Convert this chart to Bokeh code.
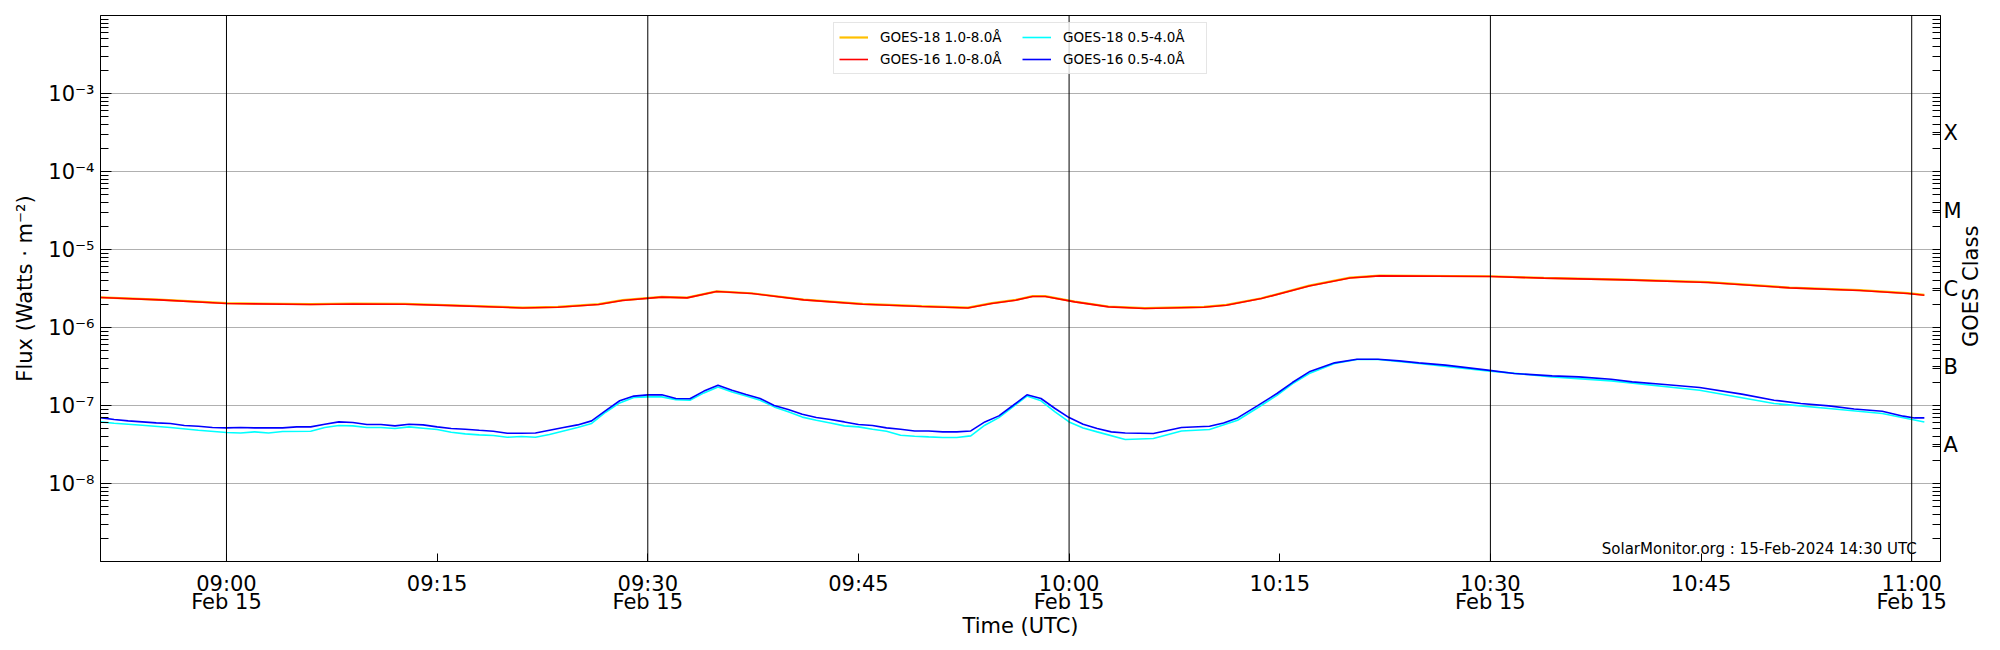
import math
from datetime import datetime, timezone
from bokeh.plotting import figure
from bokeh.models import (Range1d, FixedTicker, LogAxis, LinearAxis, Span, Label, Legend,
                          LegendItem, CustomJSTickFormatter)
from bokeh.embed import file_html
from bokeh.resources import INLINE

# ---------------- data (minutes relative to 2024-02-15 09:00 UTC) ----------------
t_g16_long = [-9, -4.8, 0, 6, 9, 12.7, 16.1, 21.1, 23.6, 26.5, 28.2, 31, 32.8, 34.9, 37.4,
              41.1, 45.3, 49.5, 52.8, 54.5, 56.2, 57.4, 58.3, 60.4, 62.8, 65.4, 69.6, 71.2,
              73.7, 77.1, 80.0, 82.1, 90, 93.8, 99.6, 105.5, 111.3, 116.3, 119.7, 120.9]
f_g16_long = [2.42, 2.26, 2.03, 1.97, 2.00, 1.99, 1.91, 1.78, 1.82, 1.97, 2.22, 2.45, 2.40,
              2.89, 2.73, 2.26, 1.99, 1.86, 1.78, 2.03, 2.24, 2.50, 2.50, 2.13, 1.84, 1.75,
              1.82, 1.93, 2.35, 3.41, 4.32, 4.59, 4.51, 4.29, 4.08, 3.78, 3.22, 2.98, 2.73, 2.59]  # 1e-6

t_g18_long = [-9, -4.8, 0, 6, 9, 12.7, 16.1, 21.1, 23.6, 26.5, 28.2, 31, 32.8, 34.9, 37.4,
              41.1, 45.3, 49.5, 52.8, 54.5, 56.2, 57.4, 58.3, 60.4, 62.8, 65.4, 69.6, 71.2,
              73.7, 77.1, 80.0, 82.1, 90, 93.8, 99.6, 105.5, 111.3, 116.3, 119.7, 120.9]
f_g18_long = [2.44, 2.28, 2.05, 1.99, 2.02, 2.01, 1.93, 1.80, 1.84, 1.99, 2.24, 2.47, 2.42,
              2.91, 2.75, 2.28, 2.01, 1.88, 1.80, 2.05, 2.26, 2.52, 2.52, 2.15, 1.86, 1.77,
              1.84, 1.95, 2.37, 3.44, 4.35, 4.62, 4.54, 4.32, 4.11, 3.81, 3.25, 3.01, 2.76, 2.62]  # 1e-6

t_g16_short = [-9, -8, -7, -6, -5, -4, -3, -2, -1, 0, 1, 2, 3, 4, 5, 6, 7, 8, 9, 10, 11, 12,
               13, 14, 15, 16, 17, 18, 19, 20, 21, 22, 23, 24, 25, 26, 27, 28, 29, 30, 31, 32,
               33, 34, 35, 36, 37, 38, 39, 40, 41, 42, 43, 44, 45, 46, 47, 48, 49, 50, 51, 52,
               53, 54, 55, 56, 57, 58, 59, 60, 61, 62, 63, 64, 66, 68, 70, 71, 72, 73.4, 74.8,
               75.9, 77.1, 78.9, 80.5, 82, 83.5, 84.9, 86.8, 89.8, 91.7, 94.4, 96.3, 98.6,
               100.1, 102.2, 104.9, 107.9, 110.2, 112.1, 114.1, 115.9, 117.9, 119.4, 120.2, 120.9]
f_g16_short = [7.0, 6.6, 6.35, 6.16, 5.98, 5.88, 5.54, 5.43, 5.22, 5.16, 5.22, 5.16, 5.16, 5.16,
               5.32, 5.32, 5.76, 6.16, 6.05, 5.70, 5.70, 5.48, 5.76, 5.64, 5.32, 5.07, 4.97,
               4.82, 4.68, 4.41, 4.41, 4.45, 4.82, 5.22, 5.64, 6.35, 8.6, 11.5, 13.2, 13.7,
               13.7, 12.3, 12.2, 15.3, 18.2, 15.7, 13.8, 12.3, 10.0, 8.9, 7.74, 7.0, 6.6, 6.16,
               5.70, 5.54, 5.16, 4.97, 4.72, 4.72, 4.59, 4.59, 4.72, 6.16, 7.36, 10.0, 13.7,
               12.3, 9.15, 7.0, 5.76, 5.07, 4.59, 4.45, 4.38, 5.22, 5.43, 5.98, 6.93, 9.9,
               14.25, 19.7, 27.0, 35.2, 39.2, 39.2, 37.3, 35.2, 32.9, 28.4, 25.7, 24.0, 23.3,
               21.7, 20.1, 18.75, 17.0, 14.0, 11.7, 10.6, 9.9, 9.0, 8.45, 7.3, 6.93, 6.93]  # 1e-8

t_g18_short = [-9, -8, -6, -4, -2, 0, 1, 2, 3, 4, 6, 7, 8, 9, 10, 11, 12, 13, 14, 15, 16, 17,
               18, 19, 20, 21, 22, 23, 24, 25, 26, 27, 28, 29, 30, 31, 32, 33, 34, 35, 36, 37,
               38, 39, 40, 41, 42, 43, 44, 45, 46, 47, 48, 49, 50, 51, 52, 53, 54, 55, 56, 57,
               58, 59, 60, 61, 62, 64, 66, 68, 70, 72, 73.4, 74.8, 75.9, 77.1, 78.9, 80.5, 82,
               84.9, 89.8, 94.4, 98.6, 104.9, 110.2, 114.1, 117.9, 120.9]
f_g18_short = [6.16, 5.93, 5.59, 5.22, 4.82, 4.51, 4.45, 4.59, 4.45, 4.64, 4.68, 5.22, 5.54,
               5.48, 5.22, 5.22, 5.07, 5.32, 5.12, 4.92, 4.55, 4.33, 4.20, 4.12, 3.92, 4.00,
               3.92, 4.25, 4.72, 5.22, 5.88, 8.2, 10.8, 12.7, 12.9, 12.9, 11.9, 11.7, 14.5,
               17.3, 14.9, 13.2, 11.7, 9.6, 8.3, 7.1, 6.48, 5.98, 5.48, 5.32, 4.97, 4.68, 4.16,
               4.04, 3.96, 3.89, 3.89, 4.08, 5.59, 7.0, 9.6, 13.2, 11.5, 8.3, 6.16, 5.16, 4.59,
               3.67, 3.78, 4.72, 4.92, 6.48, 9.3, 13.5, 19.0, 25.7, 34.5, 38.9, 38.9, 34.5,
               27.8, 23.3, 20.7, 15.7, 10.6, 9.15, 7.9, 6.16]  # 1e-8

x_tick_min = [0, 15, 30, 45, 60, 75, 90, 105, 120]
x_tick_labels = ["09:00", "09:15", "09:30", "09:45", "10:00", "10:15", "10:30", "10:45", "11:00"]
date_tick_min = [0, 30, 60, 90, 120]
date_tick_labels = ["Feb 15", "Feb 15", "Feb 15", "Feb 15", "Feb 15"]
vline_min = [0, 30, 60, 90, 120]
y_tick_vals = [1e-8, 1e-7, 1e-6, 1e-5, 1e-4, 1e-3]
y_tick_labels = ["10⁻⁸", "10⁻⁷", "10⁻⁶", "10⁻⁵", "10⁻⁴", "10⁻³"]
class_vals = [10 ** -7.5, 10 ** -6.5, 10 ** -5.5, 10 ** -4.5, 10 ** -3.5]
class_labels = ["A", "B", "C", "M", "X"]
series_labels = ["GOES-18 1.0-8.0Å", "GOES-16 1.0-8.0Å", "GOES-18 0.5-4.0Å", "GOES-16 0.5-4.0Å"]
note = "SolarMonitor.org : 15-Feb-2024 14:30 UTC"
right_title = "GOES Class"

BASE = datetime(2024, 2, 15, 9, 0, tzinfo=timezone.utc).timestamp() * 1000.0
MS = 60000.0


def tx(mins):
    return [BASE + m * MS for m in mins]


FONT = "DejaVu Sans"

p = figure(width=1998, height=648, y_axis_type="log",
           x_range=Range1d(BASE - 8.97 * MS, BASE + 122.05 * MS),
           y_range=Range1d(1e-9, 1e-2),
           output_backend="svg", toolbar_location=None,
           min_border_left=100, min_border_right=58, min_border_top=15, min_border_bottom=87)
p.background_fill_color = "white"
p.border_fill_color = "white"
p.outline_line_color = "black"
p.outline_line_width = 1

minor_y = [k * 10.0 ** e for e in range(-9, -2) for k in range(2, 10)]

PICK_LOG = """
let best = 0, d = Infinity;
for (let i = 0; i < vals.length; i++) { const dd = Math.abs(Math.log10(vals[i]) - Math.log10(tick)); if (dd < d) { d = dd; best = i; } }
return labs[best];
"""
PICK_LIN = """
let best = 0, d = Infinity;
for (let i = 0; i < vals.length; i++) { const dd = Math.abs(vals[i] - tick); if (dd < d) { d = dd; best = i; } }
return labs[best];
"""

# x axis (times)
xa = p.xaxis[0]
xa.ticker = FixedTicker(ticks=tx(x_tick_min), minor_ticks=[])
xa.formatter = CustomJSTickFormatter(args=dict(vals=tx(x_tick_min), labs=x_tick_labels), code=PICK_LIN)
xa.major_tick_in = 8
xa.major_tick_out = 0
xa.minor_tick_in = 0
xa.minor_tick_out = 0
xa.major_label_standoff = 10

# second row of x labels (dates) carrying the axis title
xd = LinearAxis(ticker=FixedTicker(ticks=tx(date_tick_min), minor_ticks=[]),
                formatter=CustomJSTickFormatter(args=dict(vals=tx(date_tick_min), labs=date_tick_labels),
                                                code=PICK_LIN))
xd.major_tick_in = 0
xd.major_tick_out = 0
xd.minor_tick_in = 0
xd.minor_tick_out = 0
xd.major_label_standoff = -9
xd.axis_label = "Time (UTC)"
xd.axis_label_standoff = -3
p.add_layout(xd, "below")

# y axis
ya = p.yaxis[0]
ya.ticker = FixedTicker(ticks=y_tick_vals, minor_ticks=minor_y)
ya.formatter = CustomJSTickFormatter(args=dict(vals=y_tick_vals, labs=y_tick_labels), code=PICK_LOG)
ya.axis_label = "Flux (Watts · m⁻²)"
ya.major_tick_in = 11
ya.major_tick_out = 0
ya.minor_tick_in = 8
ya.minor_tick_out = 0
ya.major_label_standoff = 6
ya.axis_label_standoff = 8

# right class axis
ra = LogAxis(ticker=FixedTicker(ticks=class_vals, minor_ticks=minor_y + y_tick_vals))
ra.formatter = CustomJSTickFormatter(args=dict(vals=class_vals, labs=class_labels), code=PICK_LOG)
ra.major_tick_in = 8
ra.major_tick_out = 0
ra.minor_tick_in = 8
ra.minor_tick_out = 0
ra.major_label_standoff = 3
p.add_layout(ra, "right")

# right title drawn as a single rotated tick label of an extra axis (reads bottom-to-top)
title_start = 10 ** -6.25
rt = LogAxis(ticker=FixedTicker(ticks=[title_start], minor_ticks=[]),
             formatter=CustomJSTickFormatter(args=dict(lab=right_title), code="return lab;"))
rt.major_label_orientation = math.pi / 2
rt.major_tick_in = 0
rt.major_tick_out = 0
rt.minor_tick_in = 0
rt.minor_tick_out = 0
rt.major_label_standoff = 6
p.add_layout(rt, "right")

for ax in (xa, xd, ya, ra, rt):
    ax.major_label_text_font = FONT
    ax.major_label_text_font_size = "21px"
    ax.major_label_text_color = "black"
    ax.axis_label_text_font = FONT
    ax.axis_label_text_font_size = "21px"
    ax.axis_label_text_font_style = "normal"
    ax.axis_label_text_color = "black"
for ax in (xa, ya, ra):
    ax.axis_line_color = "black"
    ax.major_tick_line_color = "black"
    ax.minor_tick_line_color = "black"
for ax in (xd, rt):
    ax.axis_line_color = None
    ax.major_tick_line_color = None
    ax.minor_tick_line_color = None

p.xgrid.visible = False
p.ygrid.ticker = FixedTicker(ticks=y_tick_vals)
p.ygrid.grid_line_color = "#b0b0b0"
p.ygrid.grid_line_width = 1

for m in vline_min:
    p.add_layout(Span(location=BASE + m * MS, dimension="height",
                      line_color="black", line_width=1))

r1 = p.line(tx(t_g18_long), [v * 1e-6 for v in f_g18_long], line_color="#ffc000", line_width=2.2)
r2 = p.line(tx(t_g16_long), [v * 1e-6 for v in f_g16_long], line_color="#ff0000", line_width=1.6)
r3 = p.line(tx(t_g18_short), [v * 1e-8 for v in f_g18_short], line_color="#00ffff", line_width=1.6)
r4 = p.line(tx(t_g16_short), [v * 1e-8 for v in f_g16_short], line_color="#0000ff", line_width=1.6)

legend = Legend(items=[LegendItem(label=series_labels[0], renderers=[r1]),
                       LegendItem(label=series_labels[1], renderers=[r2]),
                       LegendItem(label=series_labels[2], renderers=[r3]),
                       LegendItem(label=series_labels[3], renderers=[r4])],
                location="top_center", ncols=2)
legend.margin = 7
legend.padding = 5
legend.spacing = 4
legend.label_text_font = FONT
legend.label_text_font_size = "13.5px"
legend.label_text_color = "black"
legend.label_height = 18
legend.label_width = 138
legend.glyph_width = 29
legend.glyph_height = 18
legend.label_standoff = 12
legend.border_line_color = "#cccccc"
legend.border_line_width = 1
legend.background_fill_color = "white"
legend.background_fill_alpha = 0.8
p.add_layout(legend)

p.add_layout(Label(x=BASE + 120.36 * MS, y=1.43e-9, text=note, text_align="right",
                   text_baseline="alphabetic", text_font=FONT, text_font_size="15px",
                   text_color="black"))

open("out.html", "w").write(file_html(p, INLINE))
